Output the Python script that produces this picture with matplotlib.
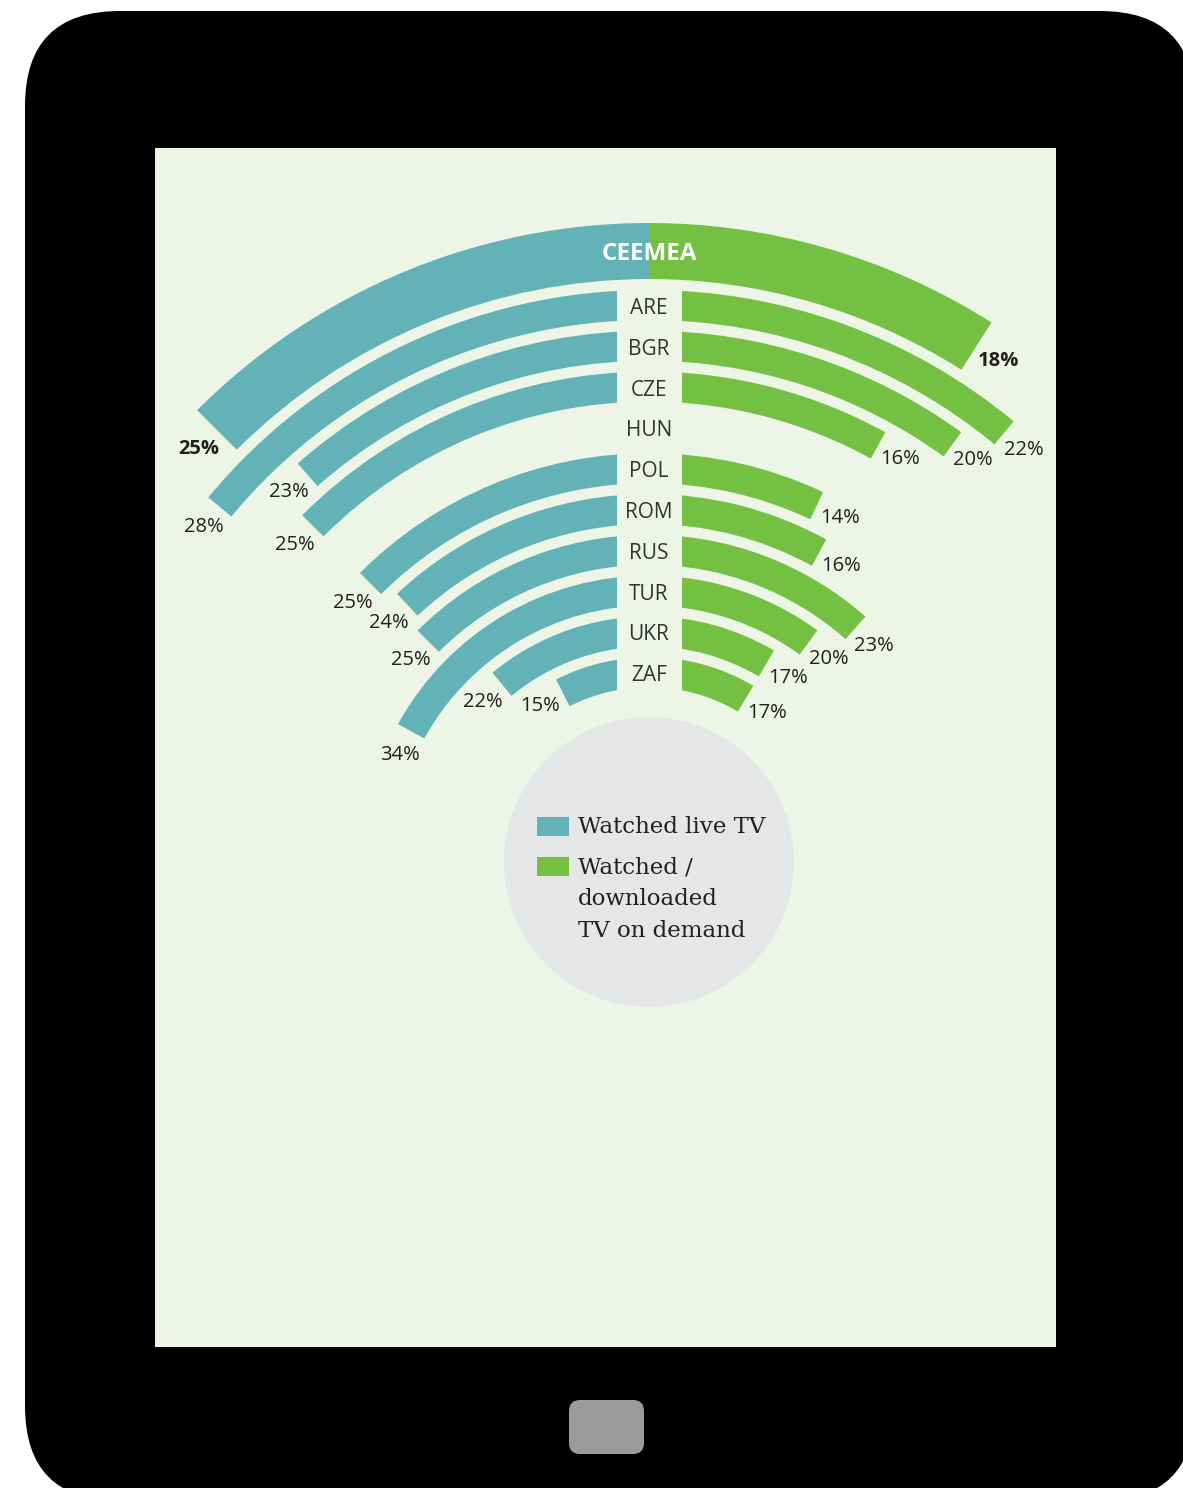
import matplotlib
matplotlib.use('Agg')
import matplotlib.pyplot as plt
from matplotlib.patches import Wedge, FancyBboxPatch, Rectangle, Circle
import numpy as np

# Data
countries = ['ARE', 'BGR', 'CZE', 'HUN', 'POL', 'ROM', 'RUS', 'TUR', 'UKR', 'ZAF']
live_tv = [28, 23, 25, None, 25, 24, 25, 34, 22, 15]
on_demand = [22, 20, 16, None, 14, 16, 23, 20, 17, 17]
region = 'CEEMEA'
region_live = 25
region_demand = 18
legend_lines = [['Watched live TV'], ['Watched /', 'downloaded', 'TV on demand']]

BLUE = '#63B2B8'
GREEN = '#74C043'
SCREEN = '#EDF5E7'
TEXT = '#231F20'
FONT = 'Open Sans'

W, H = 1183, 1488
fig = plt.figure(figsize=(W / 100, H / 100), dpi=100)
ax = fig.add_axes([0, 0, 1, 1])
ax.set_xlim(0, W)
ax.set_ylim(H, 0)
ax.set_aspect('equal')
ax.axis('off')
fig.patch.set_facecolor('white')

# Tablet body, screen, home button
ax.add_patch(FancyBboxPatch((25, 11), 1170, 1490, boxstyle='round,pad=0,rounding_size=95',
                            fc='black', ec='none', zorder=0))
ax.add_patch(Rectangle((155, 148), 901, 1199, fc=SCREEN, ec='none', zorder=1))
ax.add_patch(FancyBboxPatch((569, 1400), 75, 54, boxstyle='round,pad=0,rounding_size=11',
                            fc='#9B9B9B', ec='none', zorder=1))

cx, cy = 649, 862
DEG = 1.8  # degrees per percentage point


def draw_arc(r_out, width, pct, side, color):
    span = pct * DEG
    if side == 'left':
        t1, t2 = 270 - span, 270
    else:
        t1, t2 = 270, 270 + span
    ax.add_patch(Wedge((cx, cy), r_out, t1, t2, width=width, fc=color, ec='none', zorder=2))


def draw_label(r_mid, pct, side, bold=False):
    span = pct * DEG + np.degrees(26 / r_mid)
    ang = np.radians(270 - span if side == 'left' else 270 + span)
    x = cx + r_mid * np.cos(ang)
    y = cy + r_mid * np.sin(ang)
    ax.text(x, y, f'{pct}%', ha='center', va='center', fontsize=14.5, family=FONT,
            fontweight='bold' if bold else 'normal', color=TEXT, zorder=5)


# Region band
r_reg, w_reg = 639, 56
draw_arc(r_reg, w_reg, region_live, 'left', BLUE)
draw_arc(r_reg, w_reg, region_demand, 'right', GREEN)
draw_label(r_reg - w_reg / 2, region_live, 'left', bold=True)
draw_label(r_reg - w_reg / 2, region_demand, 'right', bold=True)
ax.text(cx, cy - (r_reg - w_reg / 2) + 3, region, ha='center', va='center', fontsize=17.5,
        family=FONT, fontweight='bold', color='white', zorder=5)

# Country rows
row_w = 30
for i, c in enumerate(countries):
    r_out = 572 - i * 40.8
    r_mid = r_out - row_w / 2
    if live_tv[i] is not None:
        draw_arc(r_out, row_w, live_tv[i], 'left', BLUE)
        draw_label(r_mid, live_tv[i], 'left')
    if on_demand[i] is not None:
        draw_arc(r_out, row_w, on_demand[i], 'right', GREEN)
        draw_label(r_mid, on_demand[i], 'right')
    ax.text(cx, cy - r_mid + 3.5, c, ha='center', va='center', fontsize=15, family=FONT,
            color='#333333', zorder=5)

# gap between the two halves for the country names
ax.add_patch(Rectangle((617, 285), 65, 410, fc=SCREEN, ec='none', zorder=3))

# Legend
ax.add_patch(Circle((cx, cy), 145, fc='#E5E6E8', ec='none', zorder=2))
for k, (lines, col) in enumerate(zip(legend_lines, [BLUE, GREEN])):
    y0 = 827 + k * 40
    ax.add_patch(Rectangle((537, y0 - 10), 32, 19, fc=col, ec='none', zorder=4))
    for j, line in enumerate(lines):
        ax.text(578, y0 + j * 32, line, ha='left', va='center', fontsize=16.5,
                family='DejaVu Serif', color=TEXT, zorder=5)

fig.savefig('out.png', dpi=100)
